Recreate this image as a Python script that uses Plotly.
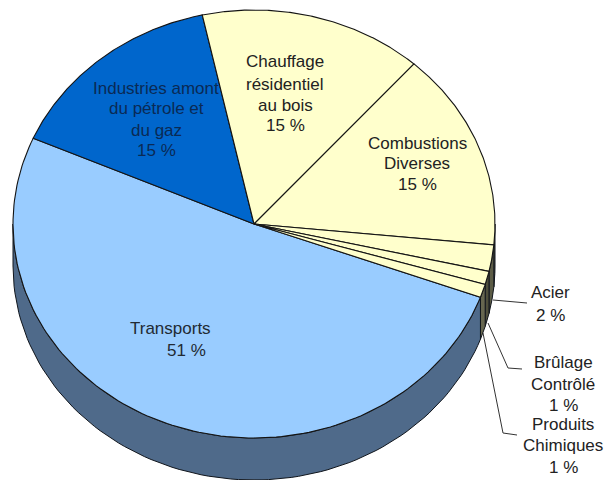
import numpy as np
import plotly.graph_objects as go

# ---- data (clockwise order, starting at the Transports slice)
categories = ["Transports", "Industries amont du pétrole et du gaz",
              "Chauffage résidentiel au bois", "Combustions Diverses",
              "Acier", "Brûlage Contrôlé", "Produits Chimiques"]
values = [51, 15, 15, 15, 2, 1, 1]

top_colors = ["#99CCFF", "#0066CC", "#FFFFCC", "#FFFFCC", "#FFFFCC", "#FFFFCC", "#FFFFCC"]
side_colors = ["#4F6A8A", "#003366", "#66664F", "#66664F", "#5C5C46", "#4F4F3C", "#66664F"]

# ---- pie geometry in pixels
CX, CY, RX, RY, DEPTH = 254, 224, 241, 214, 42
START_DEG = -20.0   # where the first slice begins; slices run clockwise


def ell(theta_deg, dy=0.0):
    t = np.radians(theta_deg)
    return CX + RX * np.cos(t), CY - RY * np.sin(t) + dy


fig = go.Figure()
edges = START_DEG - np.concatenate([[0], np.cumsum(values)]) * 3.6

# side wall: only the front half of the rim is visible (-180..0 and its -540..-360 twin)
for i in range(len(values)):
    hi, lo = edges[i], edges[i + 1]
    for vis_hi, vis_lo in ((0, -180), (-360, -540)):
        a, b = min(hi, vis_hi), max(lo, vis_lo)
        if a <= b:
            continue
        th = np.linspace(a, b, 90)
        x1, y1 = ell(th)
        x2, y2 = ell(th[::-1], DEPTH)
        fig.add_trace(go.Scatter(x=np.r_[x1, x2, x1[0]], y=np.r_[y1, y2, y1[0]], mode="lines",
                                 fill="toself", fillcolor=side_colors[i],
                                 line=dict(color="#10151c", width=1), hoverinfo="skip",
                                 showlegend=False))

# top face
for i, name in enumerate(categories):
    th = np.linspace(edges[i], edges[i + 1], 140)
    x, y = ell(th)
    fig.add_trace(go.Scatter(x=np.r_[CX, x, CX], y=np.r_[CY, y, CY], mode="lines",
                             fill="toself", fillcolor=top_colors[i], name=name,
                             line=dict(color="#141414", width=1.1), showlegend=False,
                             hovertemplate=f"{name}: {values[i]} %<extra></extra>"))

# leader lines of the three small slices
leaders = [([493, 527], [300, 303]),
           ([488, 508, 522], [323, 368, 369]),
           ([483, 503, 517], [333, 433, 435])]
for lx, ly in leaders:
    fig.add_trace(go.Scatter(x=lx, y=ly, mode="lines", line=dict(color="#333333", width=1),
                             hoverinfo="skip", showlegend=False))

# label lines: one entry per printed line, so the tight line spacing of the original is kept
line_text = ["Transports", "51 %",
             "Industries amont", "du pétrole et", "du gaz", "15 %",
             "Chauffage", "résidentiel", "au bois", "15 %",
             "Combustions", "Diverses", "15 %",
             "Acier", "2 %",
             "Brûlage", "Contrôlé", "1 %",
             "Produits", "Chimiques", "1 %"]
line_x = [170, 186,
          156, 156, 156, 156,
          285, 285, 285, 285,
          417, 417, 417,
          550, 550,
          563, 563, 563,
          563, 563, 563]
line_y = [328, 350,
          88, 108, 130, 150,
          61, 84, 105, 125,
          143, 163, 184,
          292, 315,
          362, 384, 405,
          424, 445, 467]
line_color = ["#222a33"] * 2 + ["#0a2a55"] * 4 + ["#222222"] * 15
for t, x, y, c in zip(line_text, line_x, line_y, line_color):
    fig.add_annotation(x=x, y=y, text=t, showarrow=False, xanchor="center", yanchor="middle",
                       align="center", font=dict(family="Liberation Sans", size=17, color=c))

fig.update_layout(width=607, height=480, margin=dict(l=0, r=0, t=0, b=0),
                  paper_bgcolor="white", plot_bgcolor="white", showlegend=False,
                  xaxis=dict(range=[0, 607], visible=False, fixedrange=True),
                  yaxis=dict(range=[480, 0], visible=False, fixedrange=True))
fig.write_html("out.html", config=dict(displayModeBar=False),
               post_script="document.body.style.margin='0';document.body.style.overflow='hidden';")
